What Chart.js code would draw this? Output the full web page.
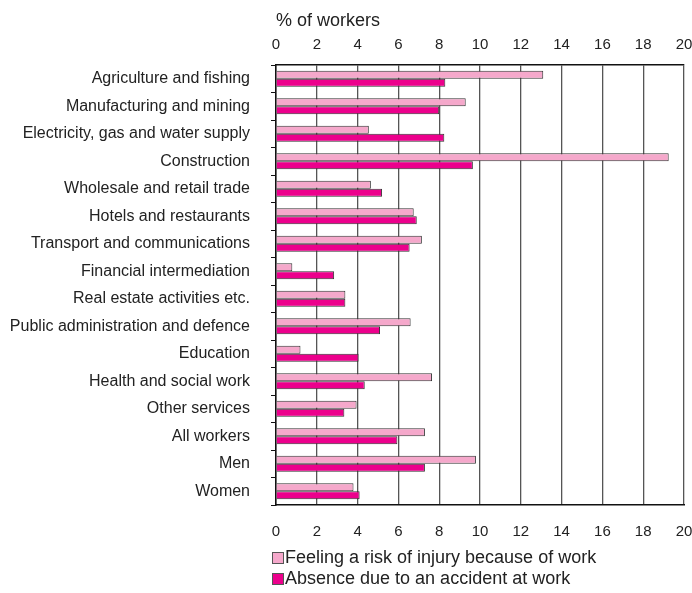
<!DOCTYPE html>
<html>
<head>
<meta charset="utf-8">
<script src="https://cdn.jsdelivr.net/npm/chart.js@4/dist/chart.umd.min.js"></script>
<style>
  body { margin: 0; background: #fff; }
  #wrap { position: relative; width: 692px; height: 593px; }
  .legend { position: absolute; left: 272px; font-family: "Liberation Sans", Arial, sans-serif; font-size: 18px; color: #222; line-height: 20px; }
  .legend span.box { display: inline-block; width: 10px; height: 10px; border: 1px solid #555; margin-right: 1px; vertical-align: -1px; }
</style>
</head>
<body>
<div id="wrap">
  <canvas id="chart" width="692" height="593"></canvas>
  <div class="legend" style="top:547px"><span class="box" style="background:#F5A8CB"></span>Feeling a risk of injury because of work</div>
  <div class="legend" style="top:568px"><span class="box" style="background:#EC008C"></span>Absence due to an accident at work</div>
</div>
<script>
// categories (top to bottom)
const sectors = [
    'Agriculture and fishing',
    'Manufacturing and mining',
    'Electricity, gas and water supply',
    'Construction',
    'Wholesale and retail trade',
    'Hotels and restaurants',
    'Transport and communications',
    'Financial intermediation',
    'Real estate activities etc.',
    'Public administration and defence',
    'Education',
    'Health and social work',
    'Other services',
    'All workers',
    'Men',
    'Women'
];

// % of workers
const riskOfInjury = [13.1, 9.3, 4.55, 19.25, 4.65, 6.75, 7.15, 0.8, 3.4, 6.6, 1.2, 7.65, 3.95, 7.3, 9.8, 3.8];
const accidentAbsence = [8.3, 8.0, 8.25, 9.65, 5.2, 6.9, 6.55, 2.85, 3.4, 5.1, 4.05, 4.35, 3.35, 5.95, 7.3, 4.1];

const xTicks = { min: 0, max: 20, step: 2 };

const font = 'Liberation Sans, Arial, sans-serif';

// keep the plot edges where we want them, labels can overhang
const noSidePad = s => { s.paddingLeft = 0; s.paddingRight = 0; };

new Chart(document.getElementById('chart'), {
    type: 'bar',
    data: {
        labels: sectors,
        datasets: [{
            label: 'Feeling a risk of injury because of work',
            data: riskOfInjury,
            backgroundColor: '#F5A8CB',
            borderColor: '#333',
            borderWidth: 1,
            xAxisID: 'x'
        }, {
            label: 'Absence due to an accident at work',
            data: accidentAbsence,
            backgroundColor: '#EC008C',
            borderColor: '#333',
            borderWidth: 1,
            xAxisID: 'x'
        }]
    },
    options: {
        indexAxis: 'y',
        responsive: false,
        animation: false,
        datasets: { bar: { categoryPercentage: 0.58, barPercentage: 1.0 } },
        layout: { padding: { left: 0, right: 8, top: 0, bottom: 48 } },
        plugins: { legend: { display: false }, tooltip: { enabled: false } },
        scales: {
            x: {
                position: 'top',
                min: xTicks.min, max: xTicks.max,
                ticks: { stepSize: xTicks.step, padding: 11, color: '#222', font: { family: font, size: 15 } },
                grid: { color: '#555', lineWidth: 1.3, drawTicks: false },
                border: { color: '#111', width: 1.5 },
                title: {
                    display: true, text: '% of workers', align: 'start', color: '#222',
                    font: { family: font, size: 18 }, padding: { top: 10, bottom: 0 }
                },
                afterFit: s => { s.height = 65; noSidePad(s); }
            },
            x2: {
                type: 'linear',
                position: 'bottom',
                min: xTicks.min, max: xTicks.max,
                ticks: { stepSize: xTicks.step, padding: 18, color: '#222', font: { family: font, size: 15 } },
                grid: { drawOnChartArea: false, drawTicks: false },
                border: { color: '#111', width: 1.5 },
                afterFit: s => { s.height = 40; noSidePad(s); }
            },
            y: {
                ticks: { padding: 21, color: '#222', font: { family: font, size: 16 } },
                grid: { drawOnChartArea: false, color: '#111', tickLength: 5 },
                border: { color: '#111', width: 1.5 },
                afterFit: s => { s.width = 276; }
            }
        }
    }
});
</script>
</body>
</html>
